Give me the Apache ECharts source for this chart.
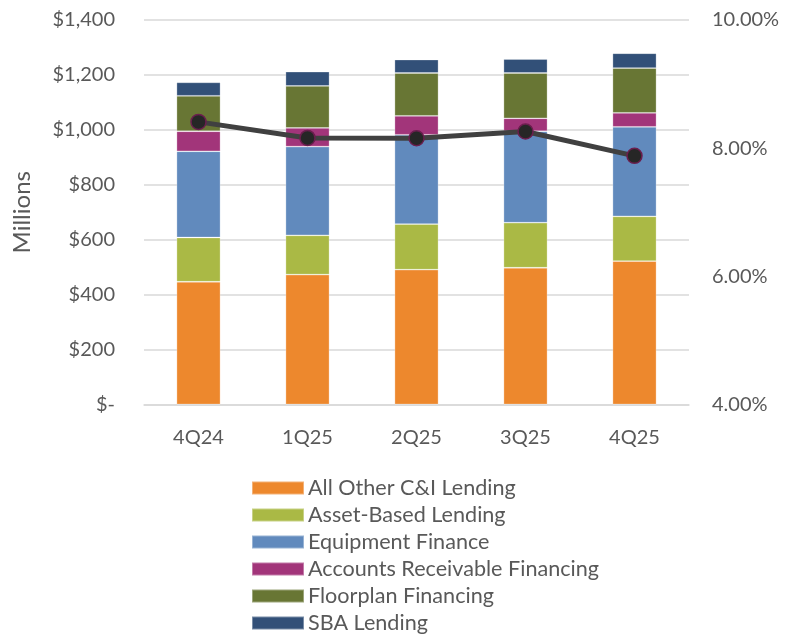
<!DOCTYPE html>
<html>
<head>
<meta charset="utf-8">
<script src="https://cdn.jsdelivr.net/npm/echarts@6/dist/echarts.min.js"></script>
<style>
  html, body { margin: 0; padding: 0; background: #fff; }
  #chart { width: 787px; height: 636px; }
</style>
</head>
<body>
<div id="chart"></div>
<script>
// Quarterly C&I loan balances ($ millions) by product, with yield on the right axis
const quarters = ['4Q24', '1Q25', '2Q25', '3Q25', '4Q25'];
const allOtherCI = [447, 473, 491, 498, 522];
const assetBased = [161, 143, 166, 164, 163];
const equipmentFinance = [314, 323, 325, 333, 326];
const accountsReceivable = [73, 68, 69, 47, 51];
const floorplan = [129, 153, 156, 165, 163];
const sbaLending = [49, 52, 49, 51, 54];
const yieldPct = [8.41, 8.16, 8.155, 8.26, 7.88];

const barSeries = [
  ['All Other C&I Lending', allOtherCI, '#ED882D'],
  ['Asset-Based Lending', assetBased, '#AAB945'],
  ['Equipment Finance', equipmentFinance, '#618ABD'],
  ['Accounts Receivable Financing', accountsReceivable, '#A2357A'],
  ['Floorplan Financing', floorplan, '#687634'],
  ['SBA Lending', sbaLending, '#325078']
];

const font = 'Lato, "Open Sans", sans-serif';
const textColor = '#595959';
const gridColor = '#d9d9d9';

const chart = echarts.init(document.getElementById('chart'), null, { renderer: 'canvas' });

const series = barSeries.map(([name, data, color]) => ({
  name,
  type: 'bar',
  stack: 'loans',
  data,
  barWidth: 44,
  itemStyle: { color, borderColor: 'rgba(255,255,255,0.35)', borderWidth: 0.8 },
  emphasis: { disabled: true }
}));

series.push({
  name: 'Yield',
  type: 'line',
  yAxisIndex: 1,
  data: yieldPct,
  z: 10,
  symbol: 'circle',
  symbolSize: 15,
  lineStyle: { color: '#404040', width: 5 },
  itemStyle: { color: '#262626', borderColor: '#6b1e4e', borderWidth: 1.5 },
  emphasis: { disabled: true }
});

chart.setOption({
  animation: false,
  grid: { left: 144, right: 98, top: 20, height: 384.5 },
  legend: {
    data: barSeries.map(s => s[0]),
    orient: 'vertical',
    left: 251,
    top: 477,
    height: 220,
    padding: 0,
    itemWidth: 52,
    itemHeight: 13,
    itemGap: 5,
    icon: 'rect',
    textStyle: { fontFamily: font, fontSize: 21.6, color: textColor, lineHeight: 21, padding: [0, 0, 0, -1] }
  },
  xAxis: {
    type: 'category',
    data: quarters,
    axisLine: { lineStyle: { color: gridColor, width: 1.5 } },
    axisTick: { show: false },
    axisLabel: { fontFamily: font, fontSize: 20, color: textColor, margin: 23 }
  },
  yAxis: [
    {
      type: 'value',
      min: 0,
      max: 1400,
      interval: 200,
      name: 'Millions',
      nameLocation: 'middle',
      nameGap: 110,
      nameRotate: 90,
      nameTextStyle: { fontFamily: font, fontSize: 24, color: textColor },
      axisLine: { show: false },
      axisTick: { show: false },
      splitLine: { lineStyle: { color: gridColor, width: 1.5 } },
      axisLabel: {
        fontFamily: font, fontSize: 20, color: textColor, margin: 29,
        formatter: v => v === 0 ? '$-' : '$' + v.toLocaleString('en-US')
      }
    },
    {
      type: 'value',
      position: 'right',
      min: 4,
      max: 10,
      interval: 2,
      axisLine: { show: false },
      axisTick: { show: false },
      splitLine: { show: false },
      axisLabel: {
        fontFamily: font, fontSize: 20, color: textColor, margin: 23,
        formatter: v => v.toFixed(2) + '%'
      }
    }
  ],
  series
});
</script>
</body>
</html>
